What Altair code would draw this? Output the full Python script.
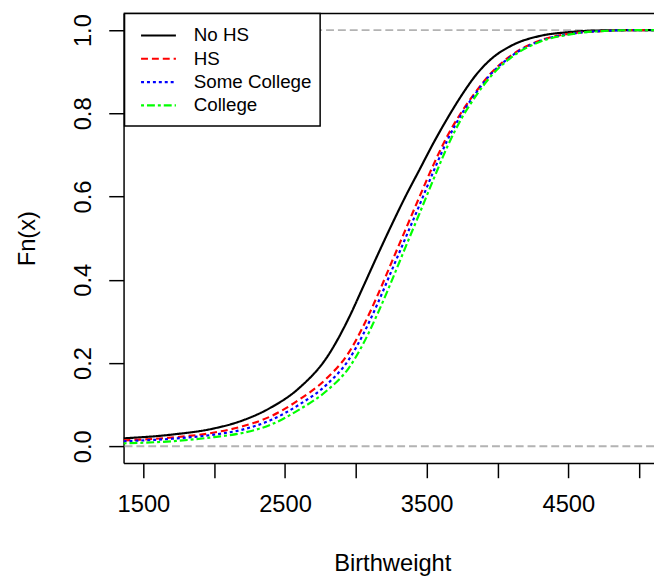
import altair as alt
import pandas as pd

# ---- data ----
groups = ["No HS", "HS", "Some College", "College"]
colors = ["#000000", "#FF0000", "#0000FF", "#00FF00"]
dashes = [[1, 0], [7, 4], [3, 3], [3, 3, 8, 3]]

birthweight = [1360, 1700, 2000, 2200, 2400, 2600, 2800, 2950, 3050, 3150, 3250, 3350,
               3450, 3550, 3650, 3750, 3850, 3950, 4100, 4300, 4500, 4700, 5000, 5140]

fn_no_hs = [0.019, 0.028, 0.043, 0.062, 0.093, 0.140, 0.216, 0.308, 0.382, 0.457, 0.530, 0.600,
            0.665, 0.730, 0.790, 0.845, 0.893, 0.929, 0.963, 0.986, 0.995, 0.999, 1.0, 1.0]
fn_hs = [0.014, 0.021, 0.033, 0.048, 0.072, 0.112, 0.165, 0.225, 0.287, 0.360, 0.440, 0.520,
         0.600, 0.678, 0.748, 0.805, 0.853, 0.895, 0.940, 0.975, 0.991, 0.997, 1.0, 1.0]
fn_some_college = [0.012, 0.018, 0.028, 0.040, 0.063, 0.100, 0.150, 0.208, 0.268, 0.340, 0.420, 0.500,
                   0.580, 0.662, 0.738, 0.800, 0.850, 0.893, 0.938, 0.974, 0.990, 0.997, 1.0, 1.0]
fn_college = [0.007, 0.012, 0.022, 0.032, 0.052, 0.088, 0.135, 0.188, 0.245, 0.316, 0.395, 0.478,
              0.560, 0.643, 0.723, 0.790, 0.843, 0.888, 0.935, 0.972, 0.989, 0.997, 1.0, 1.0]

x_ticks = [1500, 2000, 2500, 3000, 3500, 4000, 4500, 5000]
x_labels = [1500, 2500, 3500, 4500]
y_ticks = [0.0, 0.2, 0.4, 0.6, 0.8, 1.0]
ref_levels = [0.0, 1.0]

# ---- tables ----
series = [fn_no_hs, fn_hs, fn_some_college, fn_college]
rows = []
for k, (g, vals) in enumerate(zip(groups, series)):
    for i, (bwv, f) in enumerate(zip(birthweight, vals)):
        rows.append({"g": g, "gi": k, "bw": bwv, "fn": f, "i": i})
curves = pd.DataFrame(rows)
refs = pd.DataFrame({"fn": ref_levels})
leg = pd.DataFrame({"g": groups})
one = pd.DataFrame({"a": [0]})

W, H = 537, 455
FONT = "Liberation Sans"

xscale = alt.Scale(domain=[1360, 5105], nice=False, zero=False)
yscale = alt.Scale(domain=[-0.04, 1.04], nice=False, zero=False)

label_expr = f"indexof({x_labels}, datum.value) >= 0 ? datum.label : ''"

xenc = alt.X("bw:Q", scale=xscale, axis=alt.Axis(
    values=x_ticks, format="d", labelExpr=label_expr, title="Birthweight",
    grid=False, domain=True, domainColor="#000", domainWidth=1.5,
    ticks=True, tickSize=15, tickColor="#000", tickWidth=1.5,
    labelFont=FONT, labelFontSize=24, labelColor="#000", labelPadding=34,
    labelBaseline="alphabetic", labelAlign="center", labelOverlap=False, labelFlush=False,
    titleFont=FONT, titleFontSize=24, titleFontWeight="normal", titleColor="#000",
    titleX=272, titleY=109, titleAlign="center", titleBaseline="alphabetic"))

yenc = alt.Y("fn:Q", scale=yscale, axis=alt.Axis(
    values=y_ticks, format=".1f", title="Fn(x)",
    grid=False, domain=True, domainColor="#000", domainWidth=1.5,
    ticks=True, tickSize=15, tickColor="#000", tickWidth=1.5,
    labelFont=FONT, labelFontSize=24, labelColor="#000", labelPadding=18,
    labelAngle=270, labelAlign="center", labelBaseline="alphabetic", labelOverlap=False,
    labelFlush=False,
    titleFont=FONT, titleFontSize=24, titleFontWeight="normal", titleColor="#000",
    titleAngle=270, titleX=-90, titleY=227.5, titleAlign="center", titleBaseline="alphabetic"))

color = alt.Color("g:N", scale=alt.Scale(domain=groups, range=colors), legend=None)
dash = alt.StrokeDash("g:N", scale=alt.Scale(domain=groups, range=dashes), legend=None)

ref_layer = alt.Chart(refs).mark_rule(color="#B3B3B3", strokeDash=[8, 4], strokeWidth=2).encode(
    y=yenc)

line_layer = alt.Chart(curves).mark_line(strokeWidth=2.2, interpolate="monotone", clip=True).encode(
    x=xenc, y=yenc, color=color, strokeDash=dash, order="i:Q", detail="gi:O")

top_frame = alt.Chart(one).mark_rule(color="#000", strokeWidth=1.5).encode(
    x=alt.value(0), x2=alt.value(W), y=alt.value(0))

main = alt.layer(ref_layer, line_layer, top_frame)

leg_box = alt.Chart(one).mark_rect(fill="white", stroke="#000", strokeWidth=1.5).encode(
    x=alt.value(1), x2=alt.value(199), y=alt.value(0), y2=alt.value(114))

leg_y = alt.Y("g:N", scale=alt.Scale(type="point", domain=groups, range=[22.3, 93], padding=0),
              axis=None)

leg_lines = alt.Chart(leg).mark_rule(strokeWidth=2.2).encode(
    x=alt.value(17.7), x2=alt.value(53), y=leg_y, color=color, strokeDash=dash)

leg_text = alt.Chart(leg).mark_text(align="left", baseline="middle", font=FONT,
                                    fontSize=19, color="#000").encode(
    x=alt.value(71), y=leg_y, text="g:N")

legend = alt.layer(leg_box, leg_lines, leg_text)

chart = alt.layer(main, legend).resolve_scale(
    y="independent"
).properties(
    width=W, height=H,
    padding={"left": 117, "top": 2, "right": 0, "bottom": 114},
    autosize=alt.AutoSizeParams(type="none"),
    background="white",
).configure_view(stroke="transparent")

chart.save("out.html", embed_options={"renderer": "svg", "actions": False})
